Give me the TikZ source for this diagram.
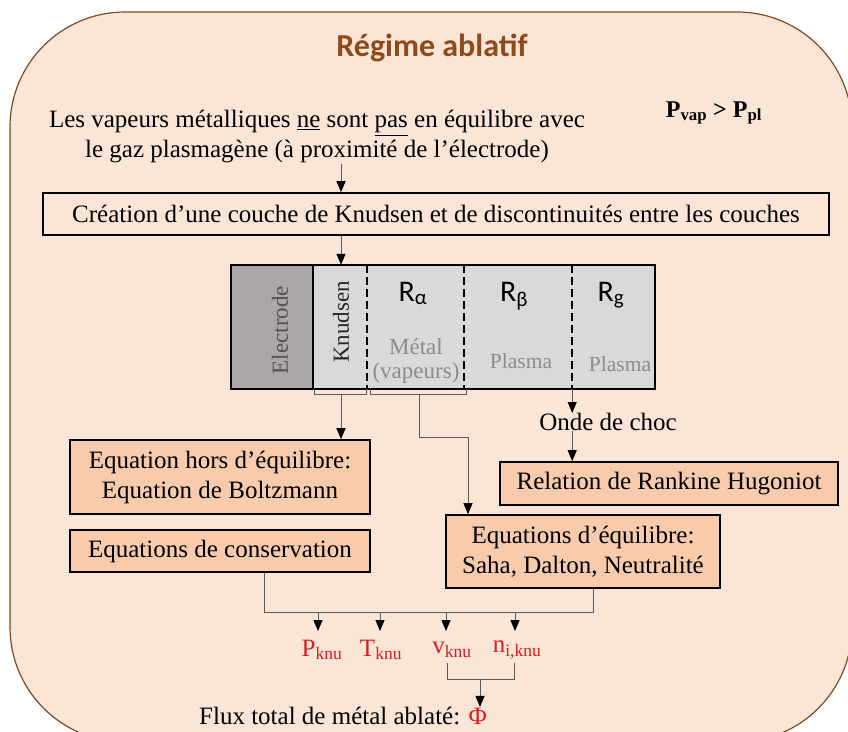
\documentclass[tikz,border=0pt]{standalone}
\usepackage{fontspec}
\setmainfont{Liberation Serif}
\newfontfamily\calibri{Carlito}
\usetikzlibrary{arrows.meta}
\definecolor{peach}{HTML}{FBE5D6}
\definecolor{boxfill}{HTML}{F8CBAD}
\definecolor{rimbrown}{HTML}{7F4A22}
\definecolor{titlebrown}{HTML}{8F4A1A}
\definecolor{elecgray}{HTML}{ABA7A7}
\definecolor{layergray}{HTML}{D9D9D9}
\definecolor{fadedtext}{HTML}{8C8C8C}
\definecolor{linkgray}{HTML}{5A5A5A}
\definecolor{knured}{HTML}{DC1E1E}
\newcommand{\bodyfont}{\fontsize{25}{30}\selectfont}

\begin{document}
\begin{tikzpicture}[x=1pt,y=-1pt,
  eqbox/.style={draw, line width=1.6pt, fill=boxfill, inner sep=0pt, align=center, font=\bodyfont},
  layer/.style={fill=layergray, minimum height=124pt, inner sep=0pt},
  rname/.style={font=\calibri\fontsize{30}{34}\selectfont, inner sep=0pt, anchor=base},
  link/.style={draw=linkgray, line width=1pt},
  tip/.style={-{Triangle[length=11pt,width=9pt,color=black]}},
  knu/.style={text=knured, font=\bodyfont, inner sep=0pt},
  faded/.style={text=fadedtext, align=center, inner sep=0pt}]
  \useasboundingbox (0,0) rectangle (848,731);
  % Background panel
  \begin{scope}
    \clip (0,0) rectangle (848,731);
    \draw[rimbrown, fill=peach, line width=1.2pt, rounded corners=115pt] (10,12) rectangle (852,742);
  \end{scope}
  % Title and statement
  \node[font=\calibri\bfseries\fontsize{32}{38}\selectfont, text=titlebrown] (title) at (432,48) {Régime ablatif};
  \node[font=\bodyfont, align=center, inner sep=0pt] (vap) at (317,137)
    {Les vapeurs métalliques \underline{ne} sont \underline{pas} en équilibre avec\\le gaz plasmagène (à proximité de l’électrode)};
  \node[font=\bfseries\fontsize{24}{28}\selectfont] (pvap) at (714,113) {P\textsubscript{vap} > P\textsubscript{pl}};
  \node[eqbox, fill=peach, minimum width=786pt, minimum height=42pt] (creation) at (436,214)
    {Création d’une couche de Knudsen et de discontinuités entre les couches};
  % Layers
  \node[layer, fill=elecgray, minimum width=82pt] (elec) at (272,327) {};
  \node[layer, minimum width=54pt] (kn) at (340,327) {};
  \node[layer, minimum width=97pt] (al) at (415.5,327) {};
  \node[layer, minimum width=108pt] (be) at (518,327) {};
  \node[layer, minimum width=83pt] (ga) at (613.5,327) {};
  \draw[line width=1.6pt] (elec.north west) rectangle (ga.south east);
  \draw[line width=1.6pt] (elec.north east) -- (elec.south east);
  \foreach \r in {kn, al, be}
    \draw[line width=2.4pt, dash pattern=on 8pt off 4pt] (\r.north east) -- (\r.south east);
  \node[rotate=90, text=black!68, inner sep=0pt, font=\fontsize{23}{26}\selectfont] (eleclab) at (280,330) {Electrode};
  \node[rotate=90, text=black!85, inner sep=0pt, font=\fontsize{23}{26}\selectfont] (knlab) at (341,322) {Knudsen};
  \node[rname] (ralpha) at (413,301) {R\textsubscript{α}};
  \node[rname] (rbeta) at (514,301) {R\textsubscript{β}};
  \node[rname] (rgas) at (611,301) {R\textsubscript{g}};
  \node[faded, font=\fontsize{23}{24}\selectfont] (metal) at (416,361) {Métal\\(vapeurs)};
  \node[faded, font=\fontsize{21.5}{24}\selectfont] (plb) at (521,361) {Plasma};
  \node[faded, font=\fontsize{21.5}{24}\selectfont] (plg) at (620,364) {Plasma};
  % Brackets under the layers
  \draw[link] ([xshift=2pt]kn.south west) -- ++(0,5) -| ([xshift=-1pt]kn.south east);
  \draw[link] ([xshift=4pt]al.south west) -- ++(0,5) -| ([xshift=2pt]al.south east);
  \coordinate (kbr) at (341,394);
  \coordinate (abr) at (419,394);
  % Equation boxes
  \node[eqbox, minimum width=300pt, minimum height=74pt] (boltz) at (220,477) {Equation hors d’équilibre:\\Equation de Boltzmann};
  \node[eqbox, minimum width=300pt, minimum height=42pt] (cons) at (220,551) {Equations de conservation};
  \node[font=\bodyfont, inner sep=0pt] (choc) at (608,422) {Onde de choc};
  \node[eqbox, minimum width=338pt, minimum height=43pt] (rank) at (669,483.5) {Relation de Rankine Hugoniot};
  \node[eqbox, minimum width=274pt, minimum height=73pt] (sat) at (583,551.5) {Equations d’équilibre:\\Saha, Dalton, Neutralité};
  % Arrows
  \draw[link, tip] (vap.south -| kbr) -- (creation.north -| kbr);
  \draw[link, tip] (creation.south -| kbr) -- (kn.north -| kbr);
  \draw[link, tip] (kbr) -- (kbr |- boltz.north);
  \draw[link, tip] (abr) -- ++(0,43) -| ([xshift=-115pt]sat.north);
  \draw[link, tip] (be.south east) -- (be.south east |- choc.north);
  \draw[link, tip] (choc.south -| be.south east) -- (rank.north -| be.south east);
  % Output quantities
  \node[knu] (pk) at (322,650) {P\textsubscript{knu}};
  \node[knu] (tk) at (381,650) {T\textsubscript{knu}};
  \node[knu] (vk) at (452,650) {v\textsubscript{knu}};
  \node[knu] (nk) at (517,650) {n\textsubscript{i,knu}};
  \coordinate (busL) at (264,612);
  \coordinate (busR) at (593,612);
  \draw[link] (cons.south -| busL) -- (busL) -- (busR) -- (sat.south -| busR);
  \foreach \n/\x in {pk/318, tk/380, vk/446, nk/515} {
    \coordinate (a\n) at (\x,631);
    \draw[link, tip] (busL -| a\n) -- (a\n);
  }
  \node[font=\bodyfont, inner sep=0pt] (flux) at (343,716) {Flux total de métal ablaté: \textcolor{knured}{Φ}};
  \coordinate (vb) at (447,663);
  \coordinate (nb) at (514,663);
  \coordinate (vn) at (480,679);
  \draw[link] (vb) -- ++(0,16) -| (nb);
  \draw[link, tip] (vn) -- (vn |- flux.north);
\end{tikzpicture}
\end{document}
